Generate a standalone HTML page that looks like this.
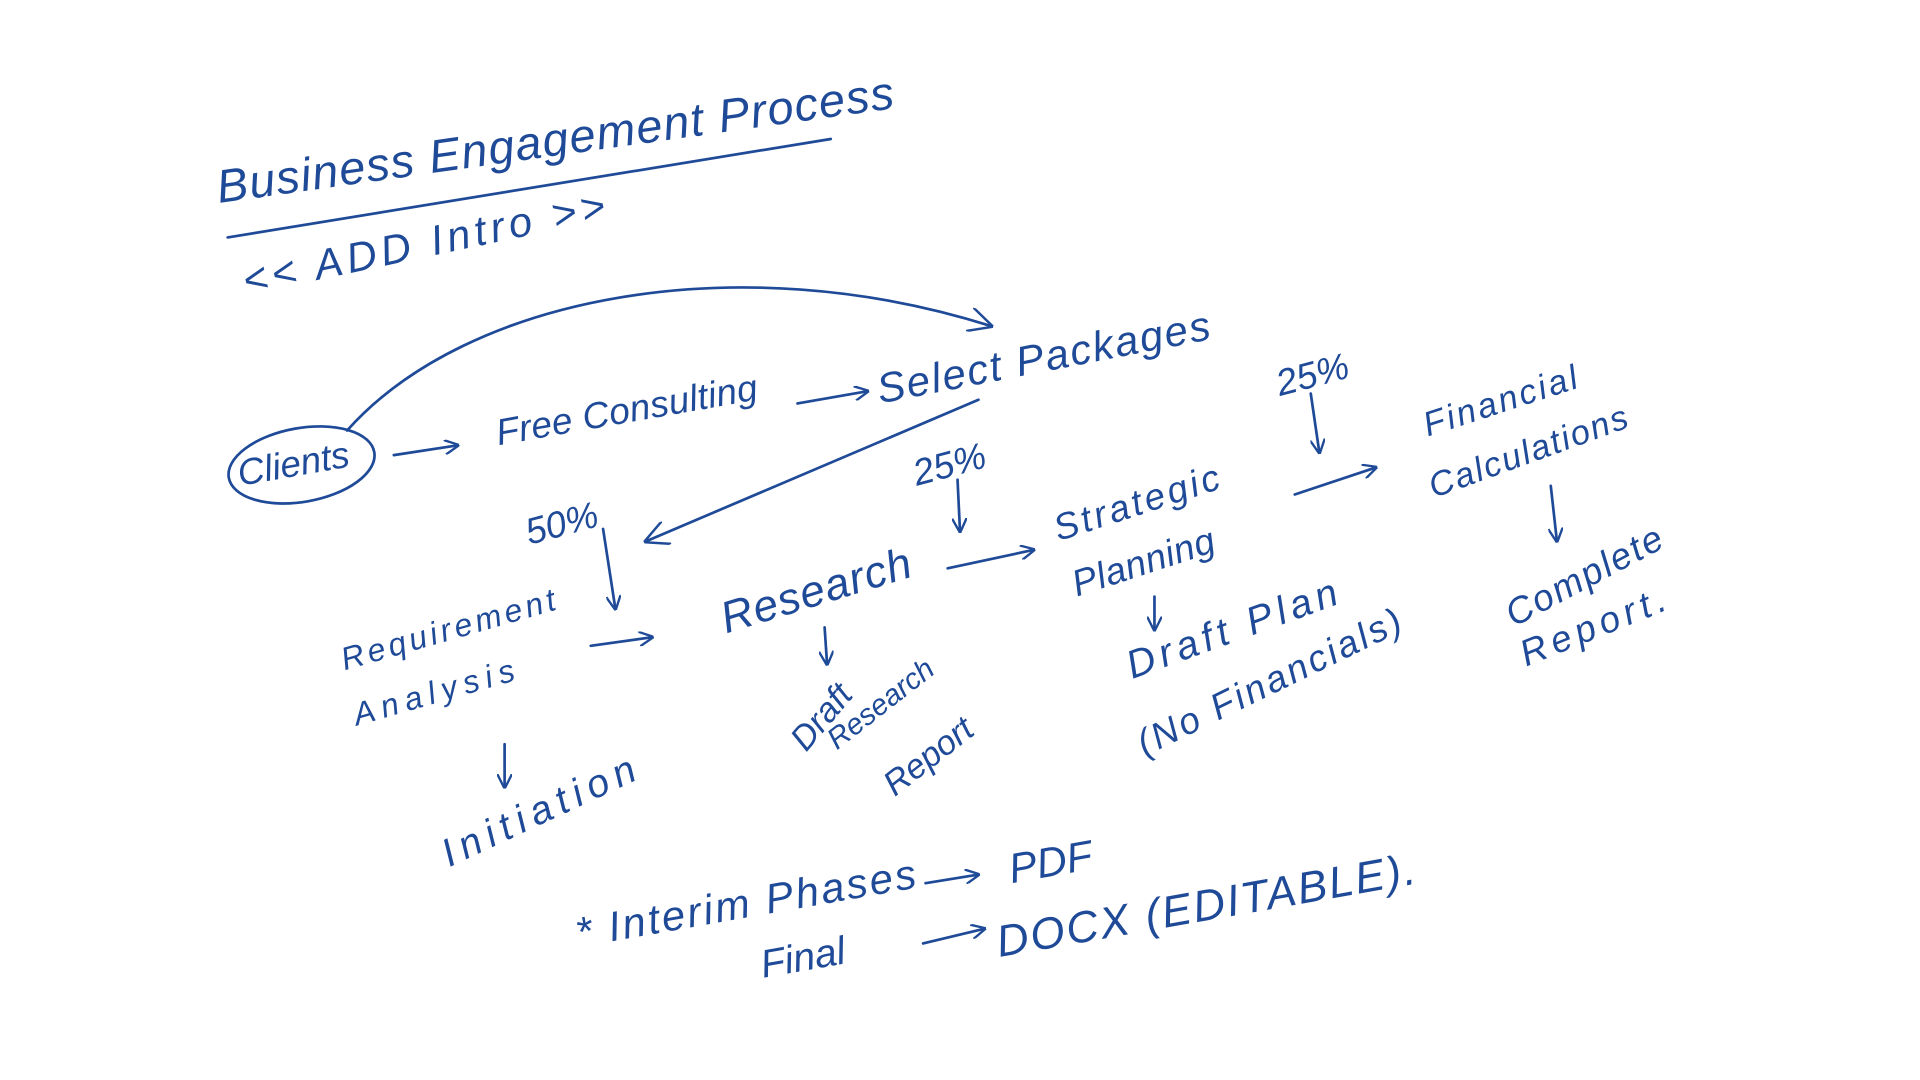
<!DOCTYPE html>
<html><head><meta charset="utf-8"><style>
html,body{margin:0;padding:0;background:#fff;width:1920px;height:1080px;overflow:hidden}
svg{display:block}
text{font-family:"Liberation Sans",sans-serif;font-style:italic;fill:#1f4a98}
</style></head><body>
<svg width="1920" height="1080" viewBox="0 0 1560 878" preserveAspectRatio="none">
<defs>
<marker id="a" viewBox="0 0 10 10" refX="9" refY="5" markerWidth="12" markerHeight="12" orient="auto" markerUnits="userSpaceOnUse">
<path d="M0,0 L10,5 L0,10" fill="none" stroke="#1f4a98" stroke-width="1.6"/></marker>
<marker id="b" viewBox="0 0 10 10" refX="9" refY="5" markerWidth="20" markerHeight="20" orient="auto" markerUnits="userSpaceOnUse">
<path d="M0,0 L10,5 L0,10" fill="none" stroke="#1f4a98" stroke-width="1"/></marker>
</defs>
<g stroke="#1f4a98" stroke-width="2.2" fill="none" stroke-linecap="round">
<line x1="185" y1="193" x2="675" y2="113"/>
<path d="M282,350 C380,240 600,200 805,265" marker-end="url(#b)"/>
<ellipse cx="245" cy="378" rx="60" ry="30" transform="rotate(-10 245 378)"/>
<line x1="320" y1="370" x2="372" y2="362" marker-end="url(#a)"/>
<line x1="648" y1="328" x2="705" y2="318" marker-end="url(#a)"/>
<line x1="795" y1="325" x2="525" y2="440" marker-end="url(#b)"/>
<line x1="490" y1="430" x2="500" y2="495" marker-end="url(#a)"/>
<line x1="778" y1="390" x2="780" y2="432" marker-end="url(#a)"/>
<line x1="480" y1="525" x2="530" y2="518" marker-end="url(#a)"/>
<line x1="770" y1="462" x2="840" y2="447" marker-end="url(#a)"/>
<line x1="1065" y1="320" x2="1072" y2="368" marker-end="url(#a)"/>
<line x1="1052" y1="402" x2="1118" y2="380" marker-end="url(#a)"/>
<line x1="1260" y1="395" x2="1265" y2="440" marker-end="url(#a)"/>
<line x1="670" y1="510" x2="672" y2="540" marker-end="url(#a)"/>
<line x1="938" y1="485" x2="938" y2="512" marker-end="url(#a)"/>
<line x1="410" y1="605" x2="410" y2="640" marker-end="url(#a)"/>
<line x1="752" y1="718" x2="795" y2="711" marker-end="url(#a)"/>
<line x1="750" y1="767" x2="800" y2="755" marker-end="url(#a)"/>
</g>
<text x="178" y="165" font-size="38" transform="rotate(-8 178 165)" textLength="555">Business Engagement Process</text>
<text x="200" y="240" font-size="34" transform="rotate(-12 200 240)" textLength="300">&lt;&lt; ADD Intro &gt;&gt;</text>
<text x="195" y="395" font-size="30" transform="rotate(-10 195 395)">Clients</text>
<text x="405" y="362" font-size="30" transform="rotate(-10 405 362)" textLength="215">Free Consulting</text>
<text x="715" y="328" font-size="34" transform="rotate(-11 715 328)" textLength="275">Select Packages</text>
<text x="430" y="443" font-size="30" transform="rotate(-15 430 443)">50%</text>
<text x="745" y="395" font-size="30" transform="rotate(-15 745 395)">25%</text>
<text x="1040" y="322" font-size="30" transform="rotate(-15 1040 322)">25%</text>
<text x="280" y="545" font-size="26" transform="rotate(-16 280 545)" textLength="180">Requirement</text>
<text x="290" y="590" font-size="26" transform="rotate(-16 290 590)" textLength="135">Analysis</text>
<text x="590" y="515" font-size="36" transform="rotate(-17 590 515)" textLength="160">Research</text>
<text x="860" y="440" font-size="30" transform="rotate(-18 860 440)" textLength="140">Strategic</text>
<text x="875" y="485" font-size="30" transform="rotate(-18 875 485)" textLength="120">Planning</text>
<text x="1160" y="355" font-size="28" transform="rotate(-18 1160 355)" textLength="130">Financial</text>
<text x="1165" y="405" font-size="28" transform="rotate(-20 1165 405)" textLength="170">Calculations</text>
<text x="1230" y="510" font-size="30" transform="rotate(-28 1230 510)" textLength="140">Complete</text>
<text x="1240" y="542" font-size="30" transform="rotate(-22 1240 542)" textLength="125">Report.</text>
<text x="655" y="612" font-size="28" transform="rotate(-50 655 612)">Draft</text>
<text x="680" y="610" font-size="24" transform="rotate(-38 680 610)">Research</text>
<text x="727" y="648" font-size="28" transform="rotate(-38 727 648)">Report</text>
<text x="920" y="552" font-size="32" transform="rotate(-20 920 552)" textLength="180">Draft Plan</text>
<text x="930" y="615" font-size="30" transform="rotate(-26 930 615)" textLength="235">(No Financials)</text>
<text x="365" y="705" font-size="32" transform="rotate(-25 365 705)" textLength="170">Initiation</text>
<text x="470" y="770" font-size="34" transform="rotate(-10 470 770)" textLength="280">* Interim Phases</text>
<text x="822" y="718" font-size="34" transform="rotate(-10 822 718)">PDF</text>
<text x="620" y="795" font-size="32" transform="rotate(-10 620 795)">Final</text>
<text x="812" y="778" font-size="36" transform="rotate(-10 812 778)" textLength="345">DOCX (EDITABLE).</text>
</svg>
</body></html>
